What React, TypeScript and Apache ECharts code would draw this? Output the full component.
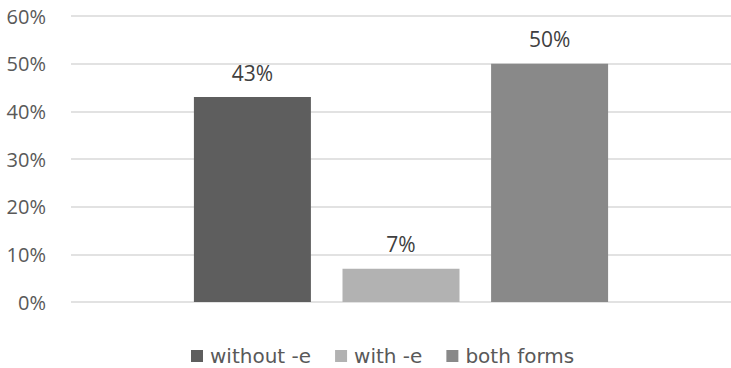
import React, { useEffect, useRef } from "react";
import * as echarts from "echarts";

const seriesNames = ["without -e", "with -e", "both forms"];
const seriesValues = [43, 7, 50];
const seriesColors = ["#5e5e5e", "#b2b2b2", "#898989"];
const categories = [""];
const yTicks = { min: 0, max: 60, interval: 10 };

const FONT = "'Open Sans', sans-serif";
const LEGEND_FONT = "'DejaVu Sans', sans-serif";

export default function App() {
  const ref = useRef<HTMLDivElement>(null);

  useEffect(() => {
    if (!ref.current) return;
    const chart = echarts.init(ref.current, undefined, { renderer: "svg" });
    chart.setOption({
      animation: false,
      grid: { left: 71, right: -1, top: 16, bottom: 66, containLabel: false },
      legend: {
        bottom: -3,
        left: 186,
        itemWidth: 12,
        itemHeight: 12,
        itemGap: 24,
        icon: "rect",
        textStyle: {
          fontFamily: LEGEND_FONT,
          fontSize: 20,
          color: "#595959",
          padding: [0, 0, 0, 2],
        },
        data: seriesNames,
      },
      xAxis: {
        type: "category",
        data: categories,
        axisLine: { show: false },
        axisTick: { show: false },
        axisLabel: { show: false },
      },
      yAxis: {
        type: "value",
        min: yTicks.min,
        max: yTicks.max,
        interval: yTicks.interval,
        axisLine: { show: false },
        axisTick: { show: false },
        axisLabel: {
          formatter: "{value}%",
          fontFamily: FONT,
          fontSize: 20,
          color: "#595959",
          margin: 25,
        },
        splitLine: { lineStyle: { color: "#d9d9d9", width: 1.5 } },
      },
      series: seriesNames.map((name, i) => ({
        name,
        type: "bar",
        data: [seriesValues[i]],
        barWidth: 117,
        barGap: "27%",
        itemStyle: { color: seriesColors[i] },
        label: {
          show: true,
          position: "top",
          distance: 14,
          formatter: "{c}%",
          fontFamily: FONT,
          fontSize: 21,
          color: "#404040",
        },
      })),
    });
    return () => chart.dispose();
  }, []);

  return (
    <div
      ref={ref}
      style={{ position: "absolute", left: 0, top: 0, width: 731, height: 368 }}
    />
  );
}
